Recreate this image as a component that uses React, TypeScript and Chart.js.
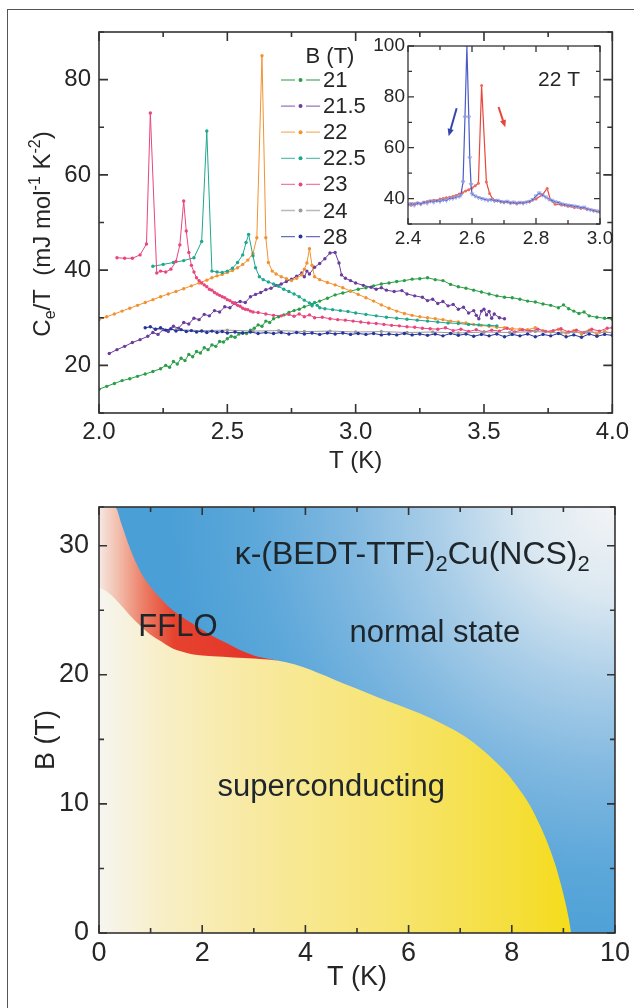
import React, { useEffect, useRef } from 'react';
import { Chart, registerables } from 'chart.js';

Chart.register(...registerables);

const FONT = '"Liberation Sans", Arial, Helvetica, sans-serif';
const INK = '#262626';
const FRAME = '#333333';

// ---- electronic specific heat Ce/T (mJ mol^-1 K^-2) vs T (K), one list per field ----
const B21: [number, number][] = [
  [2.00, 15.0], [2.03, 15.6], [2.06, 16.2], [2.09, 16.8], [2.12, 17.2], [2.15, 17.7], [2.18, 18.2], [2.21, 18.7],
  [2.24, 19.3], [2.26, 20.0], [2.275, 19.6], [2.29, 20.8], [2.305, 20.3], [2.32, 21.5], [2.335, 21.0], [2.35, 22.3],
  [2.365, 21.8], [2.38, 22.9], [2.395, 22.6], [2.41, 23.7], [2.425, 23.3], [2.44, 24.3], [2.455, 24.0], [2.47, 25.0],
  [2.485, 24.9], [2.50, 25.6], [2.515, 26.1], [2.53, 25.9], [2.545, 26.6], [2.56, 26.8], [2.575, 26.7], [2.59, 27.4],
  [2.605, 27.8], [2.62, 28.5], [2.635, 28.2], [2.65, 29.3], [2.665, 29.0], [2.68, 29.8], [2.70, 30.2], [2.72, 30.6],
  [2.74, 31.1], [2.76, 31.5], [2.78, 31.8], [2.80, 32.3], [2.83, 32.8], [2.86, 33.5], [2.89, 34.1], [2.92, 34.8],
  [2.95, 35.2], [2.98, 35.6], [3.01, 36.0], [3.04, 36.3], [3.07, 36.7], [3.10, 37.1], [3.13, 37.3], [3.16, 37.6],
  [3.19, 37.8], [3.22, 38.1], [3.25, 38.2], [3.28, 38.4], [3.31, 38.0], [3.34, 37.8], [3.37, 37.0], [3.40, 36.5],
  [3.43, 36.2], [3.46, 35.8], [3.49, 35.4], [3.52, 35.0], [3.55, 34.6], [3.58, 34.3], [3.61, 34.2], [3.64, 33.9],
  [3.67, 33.5], [3.70, 33.3], [3.73, 32.9], [3.76, 32.6], [3.79, 32.1], [3.81, 32.7], [3.83, 31.9], [3.85, 31.4],
  [3.87, 30.9], [3.89, 31.2], [3.91, 30.4], [3.94, 30.1], [3.97, 29.9], [4.00, 29.7],
];

const B21_5: [number, number][] = [
  [2.04, 22.5], [2.07, 23.3], [2.10, 24.0], [2.13, 24.8], [2.16, 25.4], [2.19, 26.1], [2.21, 26.9], [2.23, 26.5],
  [2.25, 27.5], [2.27, 27.1], [2.29, 28.2], [2.31, 27.8], [2.33, 29.0], [2.35, 28.7], [2.37, 29.9], [2.39, 29.6],
  [2.41, 30.7], [2.43, 30.4], [2.45, 31.5], [2.47, 31.2], [2.49, 32.3], [2.51, 32.1], [2.53, 33.1], [2.55, 33.4],
  [2.57, 33.2], [2.59, 34.4], [2.61, 34.9], [2.63, 35.3], [2.65, 35.9], [2.67, 36.2], [2.69, 36.8], [2.71, 37.1],
  [2.73, 37.6], [2.75, 38.1], [2.77, 38.7], [2.79, 39.4], [2.80, 38.6], [2.81, 39.8], [2.82, 39.2], [2.84, 40.6],
  [2.86, 41.4], [2.88, 42.4], [2.90, 43.6], [2.92, 43.7], [2.935, 41.5], [2.945, 39.0], [2.96, 38.3], [2.98, 37.8],
  [3.00, 37.3], [3.03, 36.8], [3.06, 36.4], [3.08, 36.0], [3.10, 36.3], [3.12, 35.8], [3.15, 35.5], [3.18, 35.7],
  [3.20, 35.0], [3.23, 34.6], [3.26, 34.3], [3.28, 33.6], [3.30, 33.9], [3.32, 33.0], [3.34, 33.4], [3.36, 32.5],
  [3.38, 32.8], [3.40, 31.8], [3.42, 32.2], [3.44, 31.0], [3.46, 31.5], [3.47, 30.5], [3.48, 29.8], [3.49, 31.4],
  [3.50, 31.8], [3.51, 30.6], [3.52, 31.3], [3.53, 29.9], [3.54, 30.8], [3.56, 30.0], [3.58, 29.8],
];

const B22: [number, number][] = [
  [2.00, 29.6], [2.03, 30.2], [2.06, 30.8], [2.09, 31.4], [2.12, 32.0], [2.15, 32.6], [2.18, 33.2], [2.21, 33.8],
  [2.24, 34.4], [2.27, 35.0], [2.30, 35.5], [2.33, 36.1], [2.36, 36.7], [2.39, 37.3], [2.42, 37.9], [2.44, 38.4],
  [2.46, 38.8], [2.48, 39.1], [2.50, 39.5], [2.52, 39.9], [2.54, 40.5], [2.56, 41.2], [2.58, 42.1], [2.60, 43.5],
  [2.615, 46.8], [2.635, 85.0], [2.65, 46.8], [2.66, 41.6], [2.675, 39.8], [2.69, 39.2], [2.71, 38.6], [2.73, 38.2],
  [2.75, 37.8], [2.77, 38.3], [2.79, 39.0], [2.80, 40.2], [2.81, 41.5], [2.82, 44.5], [2.83, 41.0], [2.84, 38.6],
  [2.86, 38.0], [2.89, 37.4], [2.92, 36.9], [2.95, 36.3], [2.98, 35.6], [3.01, 34.9], [3.04, 34.2], [3.07, 33.5],
  [3.10, 32.7], [3.13, 32.0], [3.16, 31.4], [3.19, 30.9], [3.22, 30.5], [3.25, 30.2], [3.28, 30.0], [3.31, 29.8],
  [3.34, 29.6], [3.37, 29.3], [3.40, 29.1], [3.43, 28.9], [3.46, 28.6], [3.49, 28.4], [3.52, 28.2], [3.55, 28.0],
  [3.58, 27.9], [3.61, 27.7], [3.64, 27.6], [3.67, 27.5], [3.70, 27.9], [3.73, 27.3], [3.76, 27.0], [3.79, 27.6],
  [3.82, 26.8], [3.85, 27.3], [3.88, 26.6], [3.91, 27.4], [3.94, 26.5], [3.97, 27.1], [4.00, 26.8],
];

const B22_5: [number, number][] = [
  [2.21, 40.8], [2.25, 41.2], [2.29, 41.6], [2.33, 42.0], [2.37, 42.6], [2.40, 46.0], [2.42, 69.2], [2.44, 39.8],
  [2.46, 39.6], [2.48, 39.5], [2.50, 39.8], [2.52, 40.4], [2.54, 41.6], [2.56, 43.2], [2.573, 45.8], [2.583, 47.5],
  [2.60, 43.0], [2.61, 40.5], [2.625, 38.6], [2.64, 38.0], [2.66, 37.5], [2.68, 37.1], [2.70, 36.6], [2.72, 36.0],
  [2.74, 35.5], [2.76, 35.0], [2.78, 34.4], [2.80, 33.7], [2.82, 33.1], [2.83, 32.5], [2.84, 33.2], [2.85, 32.6],
  [2.86, 32.1], [2.88, 31.9], [2.91, 31.7], [2.94, 31.5], [2.97, 31.3], [3.00, 31.0], [3.04, 30.7], [3.08, 30.4],
  [3.12, 30.1], [3.16, 29.9], [3.20, 29.7], [3.24, 29.5], [3.28, 29.3], [3.32, 29.1], [3.36, 28.9], [3.40, 28.8],
  [3.44, 28.6], [3.48, 28.5], [3.52, 28.4], [3.55, 28.3],
];

const B23: [number, number][] = [
  [2.07, 42.6], [2.10, 42.5], [2.13, 42.5], [2.16, 43.2], [2.185, 45.5], [2.20, 73.0], [2.225, 39.4], [2.24, 39.8],
  [2.26, 39.6], [2.28, 40.2], [2.30, 41.8], [2.315, 45.3], [2.33, 54.5], [2.34, 48.2], [2.35, 43.7], [2.36, 41.0],
  [2.37, 39.6], [2.38, 38.4], [2.39, 37.8], [2.40, 37.3], [2.41, 36.9], [2.42, 36.5], [2.43, 36.0], [2.44, 35.8],
  [2.45, 35.3], [2.46, 35.0], [2.47, 34.7], [2.48, 34.4], [2.49, 34.2], [2.50, 33.8], [2.51, 33.6], [2.52, 33.2],
  [2.53, 33.0], [2.54, 32.6], [2.55, 32.4], [2.56, 32.0], [2.57, 31.8], [2.58, 31.7], [2.59, 31.4], [2.60, 31.2],
  [2.62, 31.1], [2.65, 30.8], [2.68, 30.5], [2.71, 30.4], [2.74, 30.7], [2.76, 30.3], [2.78, 30.8], [2.80, 30.2],
  [2.82, 30.6], [2.84, 30.0], [2.87, 30.1], [2.90, 29.8], [2.93, 29.6], [2.96, 29.5], [2.99, 29.3], [3.02, 29.1],
  [3.05, 28.9], [3.08, 28.8], [3.11, 28.6], [3.14, 28.4], [3.17, 28.3], [3.20, 28.1], [3.23, 28.0], [3.26, 27.8],
  [3.29, 27.7], [3.32, 27.6], [3.35, 27.9], [3.38, 27.3], [3.41, 27.6], [3.44, 27.1], [3.47, 27.5], [3.50, 27.0],
  [3.53, 27.4], [3.56, 27.2], [3.59, 27.8], [3.62, 27.0], [3.65, 27.5], [3.68, 27.2], [3.71, 27.6], [3.74, 27.1],
  [3.77, 27.3], [3.80, 27.7], [3.83, 27.0], [3.86, 27.4], [3.89, 26.9], [3.92, 27.6], [3.95, 27.2], [3.98, 27.8],
  [4.00, 27.9],
];

const B24: [number, number][] = [
  [2.22, 27.6], [2.30, 27.5], [2.40, 27.3], [2.50, 27.4], [2.60, 27.2], [2.70, 27.3], [2.80, 27.1], [2.90, 27.2],
  [3.00, 27.0], [3.10, 27.1], [3.20, 26.9], [3.30, 27.0], [3.40, 26.8], [3.50, 27.0], [3.60, 26.9], [3.70, 27.1],
  [3.80, 26.8], [3.90, 27.0], [4.00, 26.9],
];

const B28: [number, number][] = [
  [2.18, 27.9], [2.20, 28.1], [2.22, 27.6], [2.24, 27.9], [2.26, 27.4], [2.28, 27.7], [2.30, 27.2], [2.32, 27.5],
  [2.34, 27.1], [2.36, 27.3], [2.38, 27.0], [2.40, 27.2], [2.42, 26.9], [2.44, 27.2], [2.46, 26.9], [2.48, 27.1],
  [2.50, 26.8], [2.53, 27.0], [2.56, 26.8], [2.59, 27.0], [2.62, 26.7], [2.65, 26.9], [2.68, 26.7], [2.71, 26.9],
  [2.74, 26.6], [2.77, 26.9], [2.80, 26.6], [2.83, 26.8], [2.86, 26.5], [2.89, 26.8], [2.92, 26.6], [2.95, 26.8],
  [2.98, 26.5], [3.01, 26.7], [3.04, 26.5], [3.07, 26.7], [3.10, 26.4], [3.13, 26.6], [3.16, 26.4], [3.19, 26.7],
  [3.22, 26.4], [3.25, 26.6], [3.28, 26.3], [3.31, 26.6], [3.34, 26.2], [3.37, 26.7], [3.40, 26.3], [3.43, 26.6],
  [3.46, 26.1], [3.49, 26.5], [3.52, 26.2], [3.55, 26.6], [3.58, 26.0], [3.61, 26.5], [3.64, 26.2], [3.67, 26.6],
  [3.70, 26.0], [3.73, 26.5], [3.76, 26.2], [3.79, 26.7], [3.82, 26.0], [3.85, 26.4], [3.88, 25.9], [3.91, 26.6],
  [3.94, 26.1], [3.97, 26.5], [4.00, 26.3],
];

const FIELD_LABELS = ['21', '21.5', '22', '22.5', '23', '24', '28'];
const FIELD_COLORS = ['#2b9e48', '#6a3c9c', '#f29231', '#1fa78e', '#e9467e', '#9b9b9b', '#26359c'];
const FIELD_SERIES = [B21, B21_5, B22, B22_5, B23, B24, B28];

// ---- 22 T, two temperature sweeps ----
const SWEEP_BLUE: [number, number][] = [
  [2.40, 37.5], [2.41, 38.0], [2.42, 37.4], [2.43, 38.2], [2.44, 37.9], [2.45, 38.5], [2.46, 38.2], [2.47, 39.0],
  [2.48, 38.6], [2.49, 39.2], [2.50, 38.9], [2.51, 39.5], [2.52, 39.3], [2.53, 40.0], [2.54, 40.1], [2.55, 40.5],
  [2.56, 40.9], [2.565, 41.3], [2.572, 46.5], [2.578, 72.0], [2.584, 100.0], [2.59, 72.0], [2.593, 56.0],
  [2.597, 45.5], [2.60, 41.8], [2.61, 41.0], [2.62, 40.4], [2.63, 40.0], [2.64, 39.7], [2.65, 39.4], [2.66, 39.6],
  [2.67, 39.1], [2.68, 39.3], [2.69, 38.8], [2.70, 38.6], [2.71, 38.9], [2.72, 38.3], [2.73, 38.6], [2.74, 38.2],
  [2.75, 38.5], [2.76, 38.2], [2.77, 38.6], [2.78, 38.9], [2.79, 39.6], [2.80, 41.0], [2.81, 42.2], [2.82, 41.4],
  [2.83, 40.6], [2.84, 39.8], [2.85, 39.3], [2.86, 38.7], [2.87, 38.4], [2.88, 37.9], [2.89, 37.6], [2.90, 37.4],
  [2.91, 37.2], [2.92, 37.0], [2.93, 36.8], [2.94, 36.4], [2.95, 36.6], [2.96, 35.9], [2.97, 35.6], [2.98, 35.3],
  [2.99, 35.1], [3.00, 34.8],
];

const SWEEP_RED: [number, number][] = [
  [2.40, 37.8], [2.41, 37.4], [2.42, 38.0], [2.43, 38.3], [2.44, 37.9], [2.45, 38.6], [2.46, 38.8], [2.47, 39.0],
  [2.48, 39.3], [2.49, 39.1], [2.50, 39.8], [2.51, 40.0], [2.52, 40.3], [2.53, 40.5], [2.54, 40.8], [2.55, 41.2],
  [2.56, 41.8], [2.57, 42.3], [2.58, 43.0], [2.59, 43.5], [2.60, 44.2], [2.61, 45.0], [2.62, 46.0], [2.63, 84.5],
  [2.645, 46.5], [2.655, 42.0], [2.665, 39.8], [2.675, 39.2], [2.69, 38.8], [2.70, 38.6], [2.72, 38.3], [2.74, 38.0],
  [2.76, 38.4], [2.78, 38.8], [2.80, 39.8], [2.82, 41.5], [2.835, 44.0], [2.845, 39.5], [2.86, 37.8], [2.88, 37.5],
  [2.90, 37.0], [2.92, 36.5], [2.94, 36.2], [2.96, 35.8], [2.98, 35.2], [3.00, 34.6],
];

// sweep-direction arrows, [T, Ce/T] start and end
const ARROW_BLUE: [number, number][] = [[2.552, 75.5], [2.527, 64.5]];
const ARROW_RED: [number, number][] = [[2.683, 76], [2.704, 68]];

// ---- B–T phase diagram boundaries, [T (K), B (T)] ----
const NORMAL_EDGE: [number, number][] = [[0, 33], [10, 33]];
const FFLO_UPPER: [number, number][] = [
  [0, 33], [0.31, 33], [0.45, 31.5], [0.6, 29.8], [0.8, 28.0], [1.0, 26.8], [1.2, 25.9], [1.4, 25.1], [1.6, 24.5],
  [1.8, 24.0], [2.0, 23.5], [2.2, 23.0], [2.4, 22.6], [2.6, 22.2], [2.8, 21.8], [3.0, 21.5], [3.2, 21.3], [3.45, 21.1],
];
const HC2_EDGE: [number, number][] = [
  [0, 26.8], [0.2, 26.3], [0.4, 25.5], [0.6, 24.6], [0.8, 23.8], [1.0, 23.1], [1.2, 22.6], [1.4, 22.1], [1.6, 21.8],
  [1.8, 21.6], [2.0, 21.5], [2.4, 21.4], [2.8, 21.3], [3.2, 21.2], [3.45, 21.1], [3.8, 20.8], [4.1, 20.4], [4.4, 19.9],
  [4.75, 19.3], [5.2, 18.6], [5.6, 17.95], [6.0, 17.35], [6.4, 16.7], [6.8, 15.9], [7.1, 15.2], [7.4, 14.3],
  [7.65, 13.4], [7.9, 12.4], [8.15, 11.1], [8.35, 9.9], [8.55, 8.3], [8.7, 6.9], [8.85, 5.2], [9.0, 3.0],
  [9.1, 1.2], [9.15, 0],
];

const toXY = (pts: [number, number][]) => pts.map(([x, y]) => ({ x, y }));

type Part = { t: string; sub?: boolean; sup?: boolean };

function drawRich(ctx: CanvasRenderingContext2D, parts: Part[], cx: number, cy: number, size: number, angle: number, color: string) {
  ctx.save();
  ctx.translate(cx, cy);
  ctx.rotate(angle);
  const fontFor = (p: Part) => `${p.sub || p.sup ? Math.round(size * 0.68) : size}px ${FONT}`;
  let w = 0;
  parts.forEach((p) => {
    ctx.font = fontFor(p);
    w += ctx.measureText(p.t).width;
  });
  let x = -w / 2;
  ctx.textAlign = 'left';
  ctx.textBaseline = 'alphabetic';
  ctx.fillStyle = color;
  const base = size * 0.36;
  parts.forEach((p) => {
    ctx.font = fontFor(p);
    const dy = p.sub ? size * 0.22 : p.sup ? -size * 0.42 : 0;
    ctx.fillText(p.t, x, base + dy);
    x += ctx.measureText(p.t).width;
  });
  ctx.restore();
}

// closed frame with inward major/minor ticks on all four sides
function frameTicks(major: number, minor: number, width: number) {
  return {
    id: 'frameTicks',
    afterDatasetsDraw(chart: any) {
      const { ctx, chartArea: a } = chart;
      const xs = chart.scales.x;
      const ys = chart.scales.y;
      ctx.save();
      ctx.strokeStyle = FRAME;
      ctx.lineWidth = width;
      ctx.beginPath();
      xs.ticks.forEach((t: any) => {
        const p = xs.getPixelForValue(t.value);
        const len = t.label !== '' ? major : minor;
        ctx.moveTo(p, a.bottom);
        ctx.lineTo(p, a.bottom - len);
        ctx.moveTo(p, a.top);
        ctx.lineTo(p, a.top + len);
      });
      ys.ticks.forEach((t: any) => {
        const p = ys.getPixelForValue(t.value);
        const len = t.label !== '' ? major : minor;
        ctx.moveTo(a.left, p);
        ctx.lineTo(a.left + len, p);
        ctx.moveTo(a.right, p);
        ctx.lineTo(a.right - len, p);
      });
      ctx.stroke();
      ctx.strokeRect(a.left, a.top, a.right - a.left, a.bottom - a.top);
      ctx.restore();
    },
  };
}

const isMult = (v: number, step: number) => Math.abs(v / step - Math.round(v / step)) < 1e-6;

function axis(min: number, max: number, step: number, labelStep: number, digits: number, size: number, pad: number, fit: (s: any) => void, title?: { text: string; bottom: number }) {
  return {
    type: 'linear',
    min,
    max,
    grid: { display: false, drawTicks: false },
    border: { display: false },
    ticks: {
      stepSize: step,
      autoSkip: false,
      maxRotation: 0,
      padding: pad,
      color: INK,
      font: { family: FONT, size },
      callback: (v: number) => (isMult(v, labelStep) ? v.toFixed(digits) : ''),
    },
    title: title
      ? { display: true, text: title.text, color: INK, font: { family: FONT, size }, padding: { top: 0, bottom: title.bottom } }
      : { display: false },
    afterFit: fit,
  };
}

// ---------------- main specific-heat panel ----------------
const fieldLegend = {
  id: 'fieldLegend',
  afterDraw(chart: any) {
    const ctx = chart.ctx as CanvasRenderingContext2D;
    ctx.save();
    ctx.font = `22px ${FONT}`;
    ctx.fillStyle = INK;
    ctx.textBaseline = 'middle';
    ctx.textAlign = 'center';
    ctx.fillText('B (T)', 330, 57);
    ctx.textAlign = 'left';
    chart.data.datasets.forEach((ds: any, i: number) => {
      const y = 80 + i * 26.1;
      ctx.strokeStyle = ds.borderColor;
      ctx.globalAlpha = 0.7;
      ctx.lineWidth = 1.3;
      ctx.beginPath();
      ctx.moveTo(281, y);
      ctx.lineTo(295, y);
      ctx.moveTo(306, y);
      ctx.lineTo(320, y);
      ctx.stroke();
      ctx.globalAlpha = 1;
      ctx.fillStyle = ds.borderColor;
      ctx.beginPath();
      ctx.arc(300.5, y, 2, 0, Math.PI * 2);
      ctx.fill();
      ctx.fillStyle = INK;
      ctx.fillText(ds.label, 323, y + 1);
    });
    ctx.restore();
  },
};

const heatYTitle = {
  id: 'heatYTitle',
  afterDraw(chart: any) {
    drawRich(
      chart.ctx,
      [{ t: 'C' }, { t: 'e', sub: true }, { t: '/T  (mJ mol' }, { t: '-1', sup: true }, { t: ' K' }, { t: '-2', sup: true }, { t: ')' }],
      41,
      234,
      24,
      -Math.PI / 2,
      INK,
    );
  },
};

function heatConfig(): any {
  return {
    type: 'scatter',
    data: {
      datasets: FIELD_SERIES.map((pts, i) => ({
        label: FIELD_LABELS[i],
        data: toXY(pts),
        showLine: true,
        borderColor: FIELD_COLORS[i],
        backgroundColor: FIELD_COLORS[i],
        borderWidth: 1,
        pointRadius: 1.7,
        pointBorderWidth: 0,
        pointBackgroundColor: FIELD_COLORS[i],
        order: FIELD_LABELS.length - 1 - i,
      })),
    },
    options: {
      responsive: false,
      animation: false,
      devicePixelRatio: 1,
      layout: { padding: { top: 32, right: 19, left: 0, bottom: 0 } },
      plugins: { legend: { display: false }, tooltip: { enabled: false } },
      scales: {
        x: axis(2, 4, 0.25, 0.5, 1, 24, 5, (s) => { s.height = 67; }, { text: 'T (K)', bottom: 4 }),
        y: axis(10, 90, 10, 20, 0, 24, 8, (s) => { s.width = 99; }),
      },
    },
    plugins: [frameTicks(9, 5, 1.6), fieldLegend, heatYTitle],
  };
}

// ---------------- 22 T inset ----------------
function drawArrow(ctx: CanvasRenderingContext2D, x0: number, y0: number, x1: number, y1: number, color: string) {
  const ang = Math.atan2(y1 - y0, x1 - x0);
  ctx.save();
  ctx.strokeStyle = color;
  ctx.fillStyle = color;
  ctx.lineWidth = 2;
  ctx.beginPath();
  ctx.moveTo(x0, y0);
  ctx.lineTo(x1 - 4 * Math.cos(ang), y1 - 4 * Math.sin(ang));
  ctx.stroke();
  ctx.beginPath();
  ctx.moveTo(x1, y1);
  ctx.lineTo(x1 - 8 * Math.cos(ang - 0.4), y1 - 8 * Math.sin(ang - 0.4));
  ctx.lineTo(x1 - 8 * Math.cos(ang + 0.4), y1 - 8 * Math.sin(ang + 0.4));
  ctx.closePath();
  ctx.fill();
  ctx.restore();
}

const insetMarks = {
  id: 'insetMarks',
  afterDraw(chart: any) {
    const { ctx, chartArea: a } = chart;
    const xs = chart.scales.x;
    const ys = chart.scales.y;
    const px = (p: [number, number]) => [xs.getPixelForValue(p[0]), ys.getPixelForValue(p[1])];
    const [b0, b1] = ARROW_BLUE.map(px);
    drawArrow(ctx, b0[0], b0[1], b1[0], b1[1], '#3346b0');
    const [r0, r1] = ARROW_RED.map(px);
    drawArrow(ctx, r0[0], r0[1], r1[0], r1[1], '#e8463a');
    ctx.save();
    ctx.font = `21px ${FONT}`;
    ctx.fillStyle = INK;
    ctx.textAlign = 'center';
    ctx.textBaseline = 'middle';
    ctx.fillText('22 T', a.right - 41, a.top + 34);
    ctx.restore();
  },
};

function insetConfig(): any {
  return {
    type: 'scatter',
    data: {
      datasets: [
        {
          label: '22 T red',
          data: toXY(SWEEP_RED),
          showLine: true,
          borderColor: '#e8473b',
          borderWidth: 1.2,
          pointRadius: 1.5,
          pointBorderWidth: 0,
          pointBackgroundColor: '#ec6a5e',
          order: 1,
        },
        {
          label: '22 T blue',
          data: toXY(SWEEP_BLUE),
          showLine: true,
          borderColor: '#4a5bc6',
          borderWidth: 1.2,
          pointStyle: 'triangle',
          rotation: 180,
          pointRadius: 2.2,
          pointBorderWidth: 0.8,
          pointBorderColor: '#8e9ae0',
          pointBackgroundColor: 'rgba(255,255,255,0)',
          order: 0,
        },
      ],
    },
    options: {
      responsive: false,
      animation: false,
      devicePixelRatio: 1,
      layout: { padding: { top: 16, right: 20, left: 0, bottom: 0 } },
      plugins: { legend: { display: false }, tooltip: { enabled: false } },
      scales: {
        x: axis(2.4, 3.0, 0.1, 0.2, 1, 19, 3, (s) => { s.height = 36; }),
        y: axis(30, 100, 10, 20, 0, 19, 3, (s) => { s.width = 58; }),
      },
    },
    plugins: [frameTicks(6, 4, 1.3), insetMarks],
  };
}

// ---------------- B–T phase diagram ----------------
function normalFill(c: any) {
  const chart = c.chart;
  const a = chart.chartArea;
  if (!a) return '#6fb0de';
  const cx = chart.scales.x.getPixelForValue(10);
  const cy = chart.scales.y.getPixelForValue(33);
  const g = chart.ctx.createRadialGradient(cx, cy, 0, cx, cy, 445);
  g.addColorStop(0, '#f3f4f6');
  g.addColorStop(0.2, '#dbe8f1');
  g.addColorStop(0.4, '#aacee8');
  g.addColorStop(0.6, '#80b8e0');
  g.addColorStop(0.8, '#5ea8da');
  g.addColorStop(1, '#4a9fd6');
  return g;
}

function ffloFill(c: any) {
  const chart = c.chart;
  if (!chart.chartArea) return '#e5392c';
  const x0 = chart.scales.x.getPixelForValue(0);
  const x1 = chart.scales.x.getPixelForValue(3.45);
  const g = chart.ctx.createLinearGradient(x0, 0, x1, 0);
  g.addColorStop(0, '#f6e8e2');
  g.addColorStop(0.12, '#f2b8a5');
  g.addColorStop(0.26, '#ec7a62');
  g.addColorStop(0.42, '#e6432f');
  g.addColorStop(1, '#e3302a');
  return g;
}

function scFill(c: any) {
  const chart = c.chart;
  if (!chart.chartArea) return '#f7e680';
  const x0 = chart.scales.x.getPixelForValue(0);
  const x1 = chart.scales.x.getPixelForValue(9.2);
  const g = chart.ctx.createLinearGradient(x0, 0, x1, 0);
  g.addColorStop(0, '#f6f5f0');
  g.addColorStop(0.12, '#f8efca');
  g.addColorStop(0.3, '#f8eaa6');
  g.addColorStop(0.6, '#f7e574');
  g.addColorStop(0.85, '#f5df40');
  g.addColorStop(1, '#f5dc1a');
  return g;
}

const phaseText = {
  id: 'phaseText',
  afterDatasetsDraw(chart: any) {
    const ctx = chart.ctx as CanvasRenderingContext2D;
    const xs = chart.scales.x;
    const ys = chart.scales.y;
    const at = (t: number, b: number) => [xs.getPixelForValue(t), ys.getPixelForValue(b)];
    ctx.save();
    ctx.fillStyle = '#1e252b';
    ctx.font = `31px ${FONT}`;
    ctx.textAlign = 'center';
    ctx.textBaseline = 'middle';
    let p = at(1.53, 23.7);
    ctx.fillText('FFLO', p[0], p[1]);
    p = at(6.51, 23.2);
    ctx.fillText('normal state', p[0], p[1]);
    p = at(4.5, 11.3);
    ctx.fillText('superconducting', p[0], p[1]);
    ctx.restore();
    p = at(6.07, 29.5);
    drawRich(ctx, [{ t: 'κ-(BEDT-TTF)' }, { t: '2', sub: true }, { t: 'Cu(NCS)' }, { t: '2', sub: true }], p[0], p[1], 32, 0, '#1e252b');
  },
  afterDraw(chart: any) {
    drawRich(chart.ctx, [{ t: 'B (T)' }], 44, 260, 27, -Math.PI / 2, INK);
  },
};

function phaseConfig(): any {
  const area = { showLine: true, borderWidth: 0, pointRadius: 0, fill: 'start', cubicInterpolationMode: 'monotone' };
  return {
    type: 'scatter',
    data: {
      datasets: [
        { ...area, label: 'superconducting', data: toXY(HC2_EDGE), backgroundColor: scFill, order: 1 },
        { ...area, label: 'FFLO', data: toXY(FFLO_UPPER), backgroundColor: ffloFill, order: 2 },
        { ...area, label: 'normal state', data: toXY(NORMAL_EDGE), backgroundColor: normalFill, order: 3 },
      ],
    },
    options: {
      responsive: false,
      animation: false,
      devicePixelRatio: 1,
      layout: { padding: { top: 27, right: 19, left: 0, bottom: 0 } },
      plugins: { legend: { display: false }, tooltip: { enabled: false } },
      scales: {
        x: axis(0, 10, 1, 2, 0, 27, 4, (s) => { s.height = 75; }, { text: 'T (K)', bottom: 14 }),
        y: axis(0, 33, 5, 10, 0, 27, 10, (s) => { s.width = 99; }),
      },
    },
    plugins: [phaseText, frameTicks(8, 5, 1.6)],
  };
}

function ChartCanvas(props: { left: number; top: number; width: number; height: number; build: () => any }) {
  const ref = useRef<HTMLCanvasElement>(null);
  useEffect(() => {
    const chart = new Chart(ref.current as HTMLCanvasElement, props.build());
    return () => chart.destroy();
  }, []);
  return (
    <canvas
      ref={ref}
      width={props.width}
      height={props.height}
      style={{ position: 'absolute', left: props.left, top: props.top, width: props.width, height: props.height }}
    />
  );
}

export default function App() {
  return (
    <div style={{ position: 'absolute', left: 0, top: 0, width: 634, height: 1008, background: '#ffffff', overflow: 'hidden' }}>
      <div
        style={{
          position: 'absolute',
          left: 7,
          top: 9,
          width: 640,
          height: 1010,
          borderLeft: '1.5px solid #555',
          borderTop: '1.5px solid #555',
        }}
      />
      <ChartCanvas left={0} top={0} width={634} height={480} build={heatConfig} />
      <ChartCanvas left={350} top={30} width={270} height={230} build={insetConfig} />
      <ChartCanvas left={0} top={480} width={634} height={528} build={phaseConfig} />
    </div>
  );
}
